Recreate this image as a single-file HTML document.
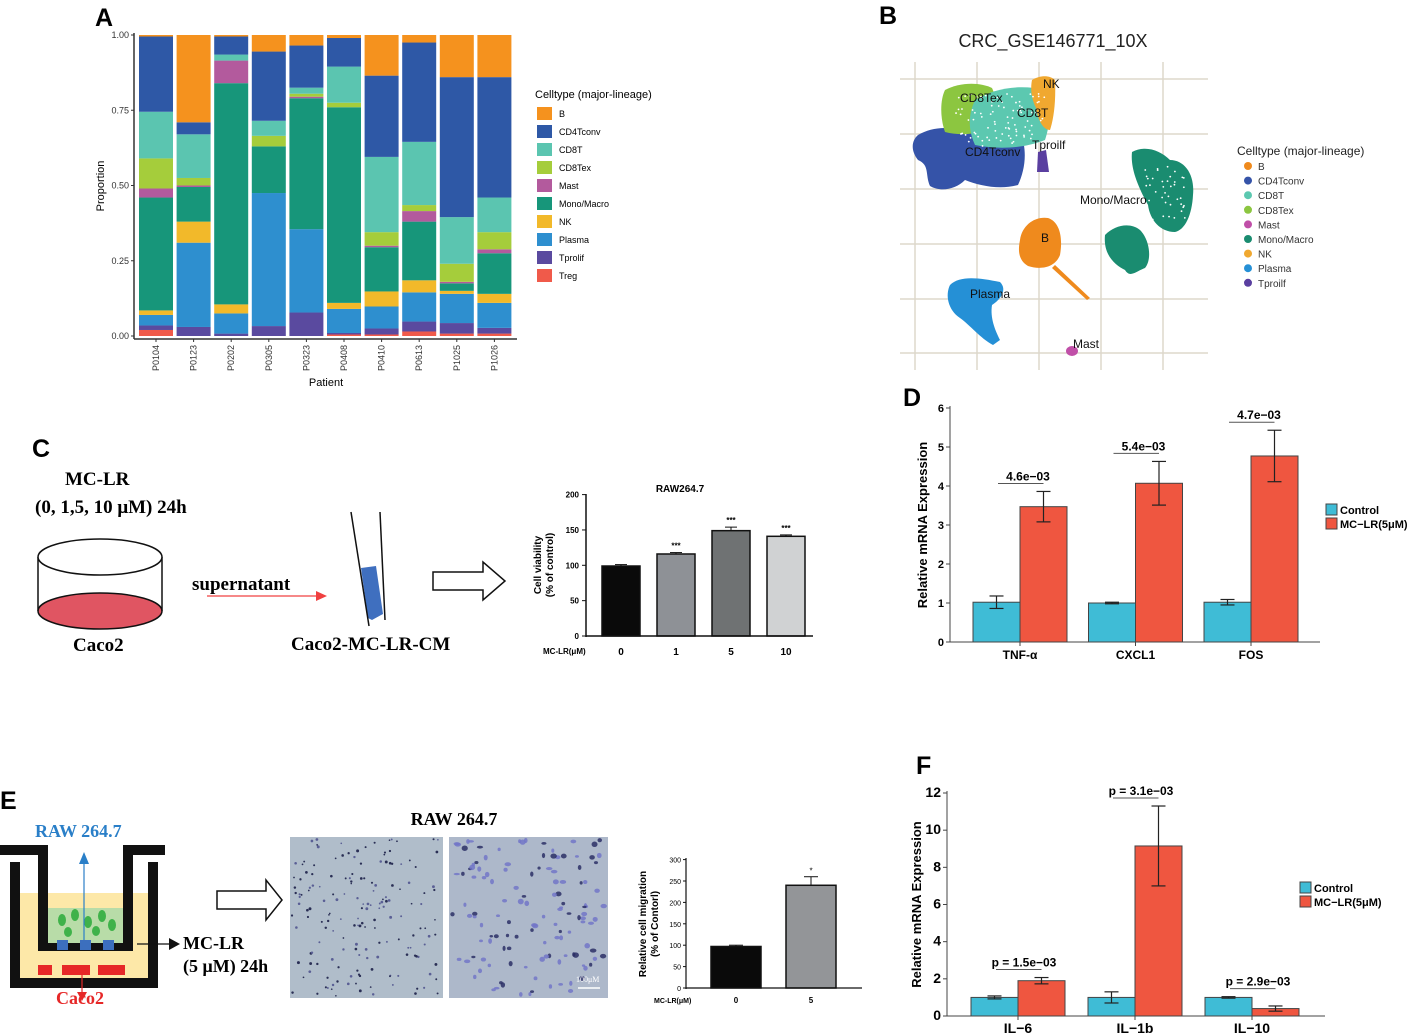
<!DOCTYPE html>
<html><head><meta charset="utf-8"><style>
html,body{margin:0;padding:0;background:#fff;width:1410px;height:1034px;overflow:hidden}
svg{display:block;font-family:"Liberation Sans",sans-serif}
.ser{font-family:"Liberation Serif",serif;font-weight:bold}
</style></head><body>
<svg id="fig" width="1410" height="1034" viewBox="0 0 1410 1034" xmlns="http://www.w3.org/2000/svg">
<g font-weight="bold" font-size="25">
<text x="95" y="26">A</text>
<text x="879" y="24">B</text>
<text x="32" y="457">C</text>
<text x="903" y="406">D</text>
<text x="0" y="809">E</text>
<text x="916" y="774">F</text>
</g>
<g id="pA"></g>
<g id="pB">
<text x="1053" y="47" font-size="18" text-anchor="middle" fill="#222">CRC_GSE146771_10X</text>
<g id="umapgrid" stroke="#ddd8cc" stroke-width="1.5"></g>
<g>
<path d="M918,135 C930,128 945,126 960,130 C975,122 1000,125 1020,132 C1028,150 1025,170 1018,185 C1000,190 980,186 965,180 C955,190 940,192 930,186 C925,175 930,165 918,160 C910,150 912,140 918,135Z" fill="#3553a8"/>
<path d="M945,90 C960,82 980,82 992,88 C998,100 995,118 988,130 C975,134 960,136 945,132 C940,118 940,100 945,90Z" fill="#8cc640"/>
<path d="M975,100 C995,88 1020,84 1045,90 C1052,105 1050,125 1045,140 C1025,148 1000,150 975,145 C968,130 968,115 975,100Z" fill="#5cc8b0"/>
<path d="M1032,80 C1040,75 1050,75 1055,80 C1056,100 1054,118 1050,130 C1043,130 1038,120 1036,108 C1032,100 1030,90 1032,80Z" fill="#f0a830"/>
<path d="M1038,152 L1046,150 L1049,172 L1037,172Z" fill="#5a3fa0"/>
<path d="M1132,152 C1145,145 1160,150 1170,160 C1185,160 1195,175 1193,195 C1192,215 1185,230 1175,232 C1160,232 1150,220 1148,205 C1140,190 1130,170 1132,152Z" fill="#1a8c70"/>
<path d="M1105,235 C1115,225 1130,222 1140,230 C1150,240 1152,260 1145,268 C1135,272 1130,278 1125,270 C1115,265 1103,255 1105,235Z" fill="#1a8c70"/>
<path d="M1020,240 C1022,225 1035,216 1048,218 C1060,222 1063,238 1060,255 C1055,268 1040,270 1028,266 C1018,260 1018,250 1020,240Z" fill="#ef8a1d"/>
<path d="M1055,265 L1090,298 L1087,300 L1052,268Z" fill="#ef8a1d"/>
<path d="M950,285 C960,275 980,278 1000,282 C1008,290 1000,300 992,305 C990,318 995,330 1000,340 L993,345 C980,338 970,325 960,318 C948,310 945,295 950,285Z" fill="#2590d6"/>
<ellipse cx="1072" cy="351" rx="6" ry="5" fill="#c04fa8"/>
<g id="umapspeck"></g>
</g>
<g font-size="12" fill="#111">
<text x="960" y="102">CD8Tex</text><text x="1043" y="88">NK</text><text x="1017" y="117">CD8T</text>
<text x="965" y="156">CD4Tconv</text><text x="1032" y="149">Tproilf</text><text x="1080" y="204">Mono/Macro</text>
<text x="1041" y="242">B</text><text x="970" y="298">Plasma</text><text x="1073" y="348">Mast</text>
</g>
<g id="umapLegend"><text x="1237" y="155" font-size="12" fill="#222">Celltype (major-lineage)</text></g>
</g>
<g id="pC">
<text class="ser" x="65" y="485" font-size="19">MC-LR</text>
<text class="ser" x="35" y="513" font-size="19">(0, 1,5, 10 μM) 24h</text>
<g stroke="#111" stroke-width="1.5">
<ellipse cx="100" cy="611" rx="62" ry="18" fill="#e05562"/>
<line x1="38" y1="557" x2="38" y2="611"/><line x1="162" y1="557" x2="162" y2="611"/>
<ellipse cx="100" cy="557" rx="62" ry="18" fill="#fff"/></g>
<text class="ser" x="73" y="651" font-size="19">Caco2</text>
<text class="ser" x="192" y="590" font-size="19">supernatant</text>
<line x1="207" y1="596" x2="316" y2="596" stroke="#f04040" stroke-width="1.2"/><path d="M316,591 L327,596 L316,601Z" fill="#f04040"/>
<g><path d="M361,568 L376,566 L383,614 L372,620 L368,618Z" fill="#3f6fbf"/>
<line x1="351" y1="512" x2="369" y2="626" stroke="#111" stroke-width="1.5"/><line x1="380" y1="512" x2="385" y2="620" stroke="#111" stroke-width="1.5"/></g>
<text class="ser" x="291" y="650" font-size="19">Caco2-MC-LR-CM</text>
<path d="M433,572 L483,572 L483,562 L505,581 L483,600 L483,590 L433,590Z" fill="#fff" stroke="#111" stroke-width="1.5"/>
<g id="cChart"></g>
</g>
<g id="pD"></g>
<g id="pE">
<text class="ser" x="35" y="837" font-size="18" fill="#2a7fc8">RAW 264.7</text>
<rect x="20" y="893" width="128" height="85" fill="#fde8a8"/>
<rect x="48" y="908" width="75" height="35" fill="#b8dca8"/>
<g fill="#111">
<rect x="0" y="845" width="48" height="10"/><rect x="38" y="845" width="10" height="105"/><rect x="38" y="943" width="95" height="8"/>
<rect x="123" y="845" width="10" height="105"/><rect x="123" y="845" width="42" height="10"/>
<rect x="10" y="862" width="10" height="126"/><rect x="10" y="978" width="148" height="10"/><rect x="148" y="862" width="10" height="126"/></g>
<g fill="#3c6fbe"><rect x="57" y="940" width="11" height="10"/><rect x="80" y="940" width="11" height="10"/><rect x="103" y="940" width="11" height="10"/></g>
<g fill="#3fb24a"><ellipse cx="62" cy="920" rx="4" ry="6"/><ellipse cx="75" cy="915" rx="4" ry="6"/><ellipse cx="88" cy="922" rx="4" ry="6"/><ellipse cx="102" cy="916" rx="4" ry="6"/><ellipse cx="112" cy="925" rx="4" ry="6"/><ellipse cx="68" cy="932" rx="4" ry="5"/><ellipse cx="96" cy="931" rx="4" ry="5"/></g>
<g fill="#e62828"><rect x="38" y="965" width="14" height="10"/><rect x="62" y="965" width="28" height="10"/><rect x="98" y="965" width="27" height="10"/></g>
<line x1="84" y1="940" x2="84" y2="862" stroke="#2a7fc8" stroke-width="1.2"/><path d="M79,864 L84,852 L89,864Z" fill="#2a7fc8"/>
<line x1="82" y1="970" x2="82" y2="993" stroke="#e62828" stroke-width="1.2"/><path d="M77,992 L82,1001 L87,992Z" fill="#e62828"/>
<line x1="137" y1="944" x2="170" y2="944" stroke="#111" stroke-width="1.2"/><path d="M169,938 L180,944 L169,950Z" fill="#111"/>
<text class="ser" x="183" y="949" font-size="18">MC-LR</text>
<text class="ser" x="183" y="972" font-size="18">(5 μM) 24h</text>
<text class="ser" x="56" y="1004" font-size="18" fill="#e62828">Caco2</text>
<path d="M217,891 L266,891 L266,880 L282,900 L266,920 L266,909 L217,909Z" fill="#fff" stroke="#111" stroke-width="1.5"/>
<text class="ser" x="454" y="825" font-size="18" text-anchor="middle">RAW 264.7</text>
<rect x="290" y="837" width="153" height="161" fill="#b0bdca"/>
<rect x="449" y="837" width="159" height="161" fill="#adb8ca"/>
<g id="dots"></g>
<text x="576" y="982" font-size="8" fill="#fff" font-family="Liberation Serif,serif">100μM</text><line x1="578" y1="988" x2="600" y2="988" stroke="#fff" stroke-width="1.5"/>
<g id="eChart"></g>
</g>
<g id="pF"></g>
</svg>
<script>
const NS="http://www.w3.org/2000/svg";
function mk(parent,tag,attrs,txt){const e=document.createElementNS(NS,tag);for(const k in attrs)e.setAttribute(k,attrs[k]);if(txt!==undefined)e.textContent=txt;parent.appendChild(e);return e;}

// ---------- Panel A data ----------
const patients=["P0104","P0123","P0202","P0305","P0323","P0408","P0410","P0613","P1025","P1026"];
const cellTypes=["Treg","Tprolif","Plasma","NK","Mono/Macro","Mast","CD8Tex","CD8T","CD4Tconv","B"];
const typeColors=["#f05a4a","#5a4a9f","#2e8fcf","#f2b92a","#17967a","#b35a9d","#a5cd3b","#5bc5b0","#2e58a6","#f5921e"];
const propTreg=[0.02,0,0,0,0,0.005,0.005,0.015,0.008,0.008];
const propTprolif=[0.015,0.03,0.008,0.033,0.078,0.005,0.02,0.033,0.035,0.019];
const propPlasma=[0.035,0.28,0.067,0.442,0.277,0.08,0.073,0.097,0.097,0.083];
const propNK=[0.015,0.07,0.03,0,0,0.02,0.05,0.04,0.01,0.03];
const propMono=[0.375,0.115,0.735,0.155,0.435,0.65,0.147,0.195,0.025,0.135];
const propMast=[0.03,0.005,0.075,0,0.005,0,0.005,0.035,0.005,0.013];
const propCD8Tex=[0.10,0.025,0,0.035,0.01,0.015,0.045,0.02,0.06,0.057];
const propCD8T=[0.155,0.145,0.02,0.05,0.02,0.12,0.25,0.21,0.155,0.115];
const propCD4=[0.25,0.04,0.06,0.23,0.14,0.095,0.27,0.33,0.465,0.40];
const propB=[0.005,0.29,0.005,0.055,0.035,0.01,0.135,0.025,0.14,0.14];
const aTicks=[0,0.25,0.5,0.75,1.0];
const aTickLabels=["0.00","0.25","0.50","0.75","1.00"];
const legendA=["B","CD4Tconv","CD8T","CD8Tex","Mast","Mono/Macro","NK","Plasma","Tprolif","Treg"];
(function(){
 const g=document.getElementById("pA");
 const series=[propTreg,propTprolif,propPlasma,propNK,propMono,propMast,propCD8Tex,propCD8T,propCD4,propB];
 const y=v=>336-v*301, x0=139, pitch=37.6, bw=34;
 const xc=i=>x0+bw/2+i*pitch;
 patients.forEach((p,i)=>{
  let acc=0;
  series.forEach((s,k)=>{
   const v=s[i]; if(v<=0){return;}
   const r=mk(g,"rect",{x:xc(i)-bw/2,y:y(acc+v),width:bw,height:y(acc)-y(acc+v),fill:typeColors[k]});
   
   
   acc+=v;
  });
  const t=mk(g,"text",{x:0,y:0,transform:`translate(${xc(i)+3},${345}) rotate(-90)`,"font-size":9,"text-anchor":"end",fill:"#333"},p);
  
  
  mk(g,"line",{x1:xc(i),x2:xc(i),y1:339,y2:342,stroke:"#333"});
 });
 mk(g,"line",{x1:134,x2:134,y1:33,y2:339,stroke:"#333","stroke-width":1.5});
 mk(g,"line",{x1:134,x2:517,y1:339,y2:339,stroke:"#333","stroke-width":1.5});
 aTicks.forEach((v,i)=>{mk(g,"line",{x1:131,x2:134,y1:y(v),y2:y(v),stroke:"#333"});
  const t=mk(g,"text",{x:129,y:y(v)+3,"font-size":9,"text-anchor":"end",fill:"#333"},aTickLabels[i]);
  
  });
 const yt=mk(g,"text",{x:0,y:0,transform:"translate(104,186) rotate(-90)","font-size":11,"text-anchor":"middle"},"Proportion");
 
 
 const xt=mk(g,"text",{x:326,y:386,"font-size":11,"text-anchor":"middle"},"Patient");
 
 
 mk(g,"text",{x:535,y:98,"font-size":11},"Celltype (major-lineage)");
 legendA.forEach((n,i)=>{const k=cellTypes.indexOf(n);
  const r=mk(g,"rect",{x:537,y:107+i*18,width:15,height:13,fill:typeColors[k]});
  
  
  mk(g,"text",{x:559,y:117+i*18,"font-size":9},n);});
})();

// ---------- Panel B legend & grid ----------
const umapTypes=["B","CD4Tconv","CD8T","CD8Tex","Mast","Mono/Macro","NK","Plasma","Tproilf"];
const umapColors=["#ef8a1d","#3553a8","#5cc8b0","#8cc640","#c04fa8","#1a8c70","#f0a830","#2590d6","#5a3fa0"];
(function(){
 const gr=document.getElementById("umapgrid");
 [915,977,1039,1101,1163].forEach(x=>mk(gr,"line",{x1:x,x2:x,y1:62,y2:370}));
 [79,134,189,244,299,353].forEach(y=>mk(gr,"line",{x1:900,x2:1208,y1:y,y2:y}));
 const sp=document.getElementById("umapspeck");let s=11;const rnd=()=>{s=(s*9301+49297)%233280;return s/233280;};
 for(let i=0;i<90;i++)mk(sp,"circle",{cx:955+rnd()*90,cy:92+rnd()*55,r:0.9,fill:"#fff"});
 for(let i=0;i<40;i++)mk(sp,"circle",{cx:1145+rnd()*40,cy:165+rnd()*55,r:0.9,fill:"#fff"});
 const g=document.getElementById("umapLegend");
 umapTypes.forEach((n,i)=>{const c=mk(g,"circle",{cx:1248,cy:166+i*14.6,r:4,fill:umapColors[i]});
  
  
  mk(g,"text",{x:1258,y:170+i*14.6,"font-size":10,fill:"#333"},n);});
})();

// ---------- Panel C chart ----------
const cDoses=["0","1","5","10"];
const cViability=[99,116,149,141];
const cErr=[2,2,5,2];
const cColors=["#0a0a0a","#8e9196","#6f7273","#d0d2d3"];
const cTicks=[0,50,100,150,200];
(function(){
 const g=document.getElementById("cChart");
 const y=v=>636-v*0.707, xc=i=>621+i*55, bw=38;
 cViability.forEach((v,i)=>{
  mk(g,"line",{x1:xc(i),x2:xc(i),y1:y(v),y2:y(v+cErr[i]),stroke:"#111"});
  mk(g,"line",{x1:xc(i)-6,x2:xc(i)+6,y1:y(v+cErr[i]),y2:y(v+cErr[i]),stroke:"#111"});
  const r=mk(g,"rect",{x:xc(i)-bw/2,y:y(v),width:bw,height:y(0)-y(v),fill:cColors[i],stroke:"#111","stroke-width":1.5});
  
  
  if(i>0)mk(g,"text",{x:xc(i),y:y(v+cErr[i])-4,"font-size":8,"text-anchor":"middle","font-weight":"bold"},"***");
  mk(g,"text",{x:xc(i),y:655,"font-size":10,"text-anchor":"middle","font-weight":"bold"},cDoses[i]);
 });
 mk(g,"line",{x1:586,x2:586,y1:494,y2:637,stroke:"#111","stroke-width":1.5});
 mk(g,"line",{x1:586,x2:813,y1:636,y2:636,stroke:"#111","stroke-width":1.5});
 cTicks.forEach(v=>{mk(g,"line",{x1:582,x2:586,y1:y(v),y2:y(v),stroke:"#111"});
  mk(g,"text",{x:579,y:y(v)+3,"font-size":8,"text-anchor":"end","font-weight":"bold"},String(v));});
 mk(g,"text",{x:680,y:492,"font-size":10,"text-anchor":"middle","font-weight":"bold"},"RAW264.7");
 mk(g,"text",{x:0,y:0,transform:"translate(541,565) rotate(-90)","font-size":10,"text-anchor":"middle","font-weight":"bold"},"Cell viability");
 mk(g,"text",{x:0,y:0,transform:"translate(553,565) rotate(-90)","font-size":10,"text-anchor":"middle","font-weight":"bold"},"(% of control)");
 mk(g,"text",{x:543,y:654,"font-size":8,"font-weight":"bold"},"MC-LR(μM)");
})();

// ---------- Panel E micrograph dots (texture) & chart ----------
(function(){
 const g=document.getElementById("dots");let s=7;const rnd=()=>{s=(s*9301+49297)%233280;return s/233280;};
 for(let i=0;i<170;i++)mk(g,"circle",{cx:292+rnd()*149,cy:839+rnd()*157,r:0.8+rnd()*0.7,fill:rnd()<0.6?"#2a2f55":"#5a5f95"});
 for(let i=0;i<130;i++)mk(g,"ellipse",{cx:452+rnd()*153,cy:839+rnd()*157,rx:1.5+rnd()*1.8,ry:1.2+rnd()*1.6,fill:rnd()<0.3?"#2c2f66":"#7275c8",opacity:0.85});
})();
const eDoses=["0","5"];
const eMigration=[97,240];
const eErr=[3,20];
const eColors=["#0a0a0a","#939598"];
const eTicks=[0,50,100,150,200,250,300];
(function(){
 const g=document.getElementById("eChart");
 const y=v=>988-v*0.428, xc=i=>736+i*75, bw=50;
 eMigration.forEach((v,i)=>{
  mk(g,"line",{x1:xc(i),x2:xc(i),y1:y(v),y2:y(v+eErr[i]),stroke:"#111"});
  mk(g,"line",{x1:xc(i)-7,x2:xc(i)+7,y1:y(v+eErr[i]),y2:y(v+eErr[i]),stroke:"#111"});
  const r=mk(g,"rect",{x:xc(i)-bw/2,y:y(v),width:bw,height:y(0)-y(v),fill:eColors[i],stroke:"#111","stroke-width":1.5});
  
  
  mk(g,"text",{x:xc(i),y:1003,"font-size":8,"text-anchor":"middle","font-weight":"bold"},eDoses[i]);
 });
 mk(g,"text",{x:xc(1),y:y(eMigration[1]+eErr[1])-3,"font-size":8,"text-anchor":"middle"},"*");
 mk(g,"line",{x1:686,x2:686,y1:858,y2:989,stroke:"#111","stroke-width":1.2});
 mk(g,"line",{x1:686,x2:862,y1:988,y2:988,stroke:"#111","stroke-width":1.2});
 eTicks.forEach(v=>{mk(g,"line",{x1:683,x2:686,y1:y(v),y2:y(v),stroke:"#111"});
  mk(g,"text",{x:681,y:y(v)+3,"font-size":7,"text-anchor":"end"},String(v));});
 mk(g,"text",{x:0,y:0,transform:"translate(646,924) rotate(-90)","font-size":10,"text-anchor":"middle","font-weight":"bold"},"Relative cell migration");
 mk(g,"text",{x:0,y:0,transform:"translate(658,924) rotate(-90)","font-size":10,"text-anchor":"middle","font-weight":"bold"},"(% of Contorl)");
 mk(g,"text",{x:654,y:1003,"font-size":7,"font-weight":"bold"},"MC-LR(μM)");
})();

// ---------- Panels D & F ----------
const dGenes=["TNF-α","CXCL1","FOS"];
const dControl=[1.02,1.0,1.02];
const dMCLR=[3.47,4.07,4.77];
const dCtrlErr=[0.16,0.02,0.07];
const dMCErr=[0.39,0.56,0.66];
const dP=["4.6e−03","5.4e−03","4.7e−03"];
const dTicks=[0,1,2,3,4,5,6];
const fGenes=["IL−6","IL−1b","IL−10"];
const fControl=[1.0,1.0,1.0];
const fMCLR=[1.9,9.15,0.4];
const fCtrlErr=[0.08,0.3,0.04];
const fMCErr=[0.17,2.15,0.14];
const fP=["p = 1.5e−03","p = 3.1e−03","p = 2.9e−03"];
const fTicks=[0,2,4,6,8,10,12];
function qpcr(id,genes,ctrl,mc,ce,me,pl,ticks,o){
 const g=document.getElementById(id);
 const y=v=>o.y0-(v/o.ymax)*(o.y0-o.ytop), xc=i=>o.x0+i*o.pitch, bw=47;
 genes.forEach((n,i)=>{
  const c=mk(g,"rect",{x:xc(i)-bw,y:y(ctrl[i]),width:bw,height:y(0)-y(ctrl[i]),fill:"#3fbcd6",stroke:"#444"});
  
  
  const m=mk(g,"rect",{x:xc(i),y:y(mc[i]),width:bw,height:y(0)-y(mc[i]),fill:"#ef5640",stroke:"#444"});
  
  
  [[xc(i)-bw/2,ctrl[i],ce[i]],[xc(i)+bw/2,mc[i],me[i]]].forEach(([x,v,e])=>{
   mk(g,"line",{x1:x,x2:x,y1:y(v-e),y2:y(v+e),stroke:"#222","stroke-width":1.2});
   mk(g,"line",{x1:x-7,x2:x+7,y1:y(v-e),y2:y(v-e),stroke:"#222","stroke-width":1.2});
   mk(g,"line",{x1:x-7,x2:x+7,y1:y(v+e),y2:y(v+e),stroke:"#222","stroke-width":1.2});});
  const top=Math.max(ctrl[i]+ce[i],mc[i]+me[i]);
  const ly=y(top)-8;
  mk(g,"line",{x1:xc(i)-bw+25,x2:xc(i)+bw/2,y1:ly,y2:ly,stroke:"#555"});
  mk(g,"text",{x:xc(i)-o.pOff,y:ly-3,"font-size":12,"text-anchor":"middle","font-weight":"bold"},pl[i]);
  mk(g,"text",{x:xc(i),y:o.y0+17,"font-size":o.xfs,"text-anchor":"middle","font-weight":"bold"},n);
  mk(g,"line",{x1:xc(i),x2:xc(i),y1:o.y0,y2:o.y0+4,stroke:"#444"});
 });
 mk(g,"line",{x1:o.xa,x2:o.xa,y1:o.ytop-2,y2:o.y0,stroke:"#444"});
 mk(g,"line",{x1:o.xa,x2:o.xend,y1:o.y0,y2:o.y0,stroke:"#444"});
 ticks.forEach(v=>{mk(g,"line",{x1:o.xa-4,x2:o.xa,y1:y(v),y2:y(v),stroke:"#444"});
  mk(g,"text",{x:o.xa-6,y:y(v)+4,"font-size":o.tfs,"text-anchor":"end","font-weight":"bold"},String(v));});
 const t=mk(g,"text",{x:0,y:0,transform:`translate(${o.ytx},${(o.y0+o.ytop)/2}) rotate(-90)`,"font-size":o.yfs,"text-anchor":"middle","font-weight":"bold"},"Relative mRNA  Expression");
 
 
 const l1=mk(g,"rect",{x:o.lx,y:o.ly,width:11,height:11,fill:"#3fbcd6",stroke:"#444"});
 
 
 const l2=mk(g,"rect",{x:o.lx,y:o.ly+14,width:11,height:11,fill:"#ef5640",stroke:"#444"});
 
 
 mk(g,"text",{x:o.lx+14,y:o.ly+10,"font-size":11,"font-weight":"bold"},"Control");
 mk(g,"text",{x:o.lx+14,y:o.ly+24,"font-size":11,"font-weight":"bold"},"MC−LR(5μM)");
}
qpcr("pD",dGenes,dControl,dMCLR,dCtrlErr,dMCErr,dP,dTicks,{x0:1020,pitch:115.5,y0:642,ytop:408,ymax:6,xa:950,xend:1320,tfs:11,xfs:12,yfs:13,ytx:927,lx:1326,ly:504,pOff:-8});
qpcr("pF",fGenes,fControl,fMCLR,fCtrlErr,fMCErr,fP,fTicks,{x0:1018,pitch:117,y0:1016,ytop:793,ymax:12,xa:947,xend:1325,tfs:14,xfs:14,yfs:13,ytx:921,lx:1300,ly:882,pOff:-6});
</script>
</body></html>
